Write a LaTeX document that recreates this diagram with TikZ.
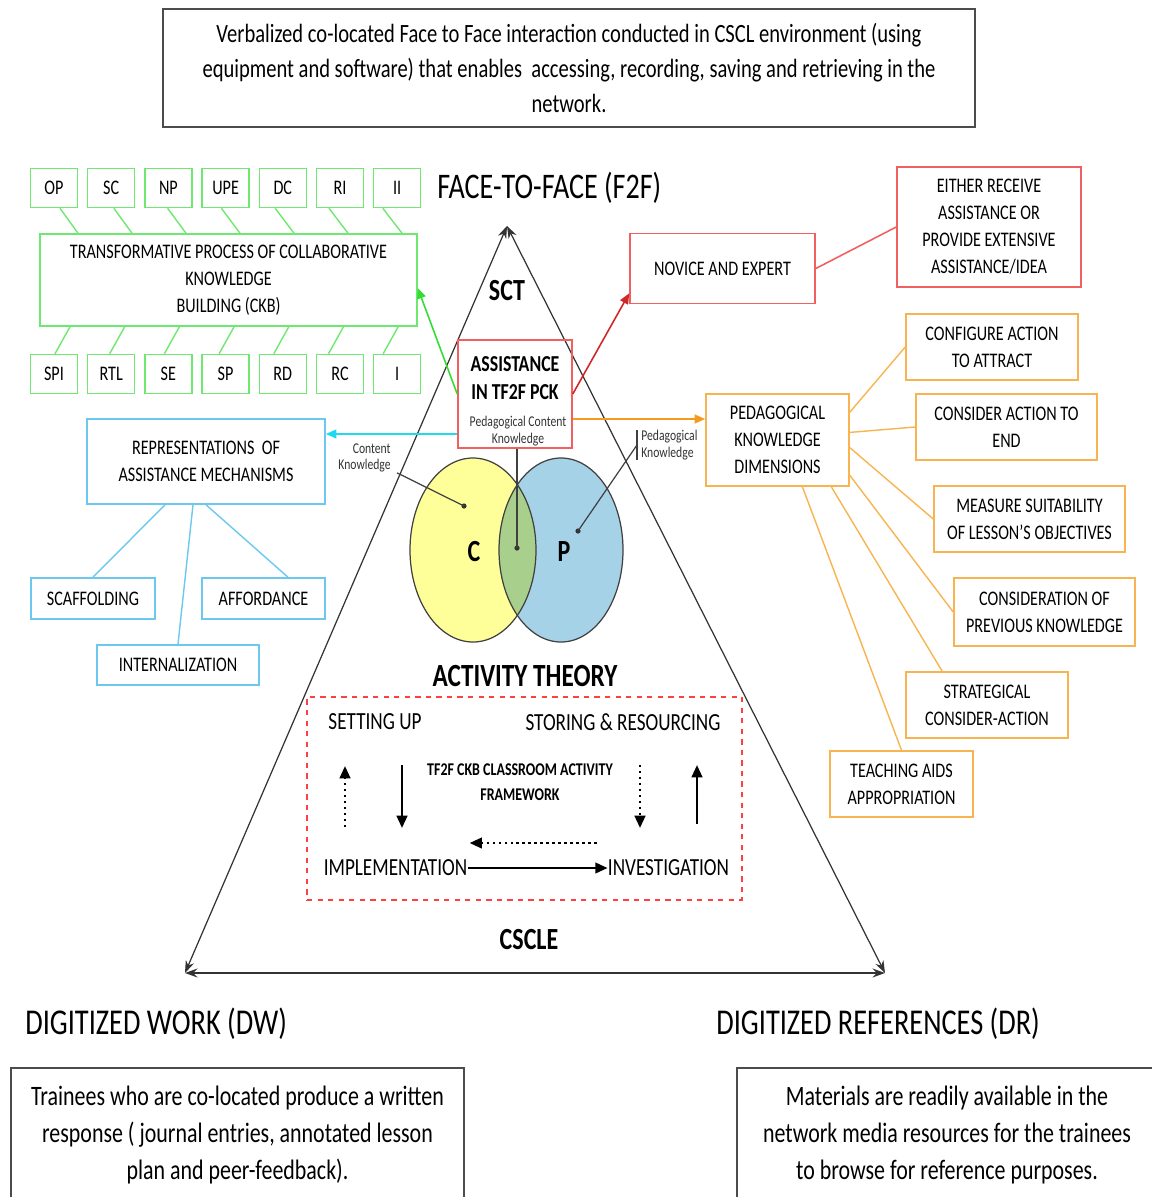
\documentclass[tikz,border=0pt]{standalone}
\usepackage{fontspec}
\setmainfont{Carlito}[FakeStretch=0.78]
\usetikzlibrary{arrows.meta}
\definecolor{boxgreen}{HTML}{6EE86E}
\definecolor{arrgreen}{HTML}{33DD33}
\definecolor{boxred}{HTML}{F06060}
\definecolor{arrred}{HTML}{D02828}
\definecolor{boxorange}{HTML}{F8B450}
\definecolor{arrorange}{HTML}{F59A1E}
\definecolor{boxblue}{HTML}{6CC8EE}
\definecolor{arrcyan}{HTML}{20D8F0}
\definecolor{vennyellow}{HTML}{FFFF99}
\definecolor{vennblue}{HTML}{A6D2E8}
\definecolor{venngreen}{HTML}{A8D08C}

\begin{document}
\begin{tikzpicture}[x=0.02cm, y=-0.02cm,
  txt/.style={font=\fontsize{11.8}{15.3}\selectfont, align=center, inner sep=0pt},
  gbox/.style={txt, draw=boxgreen, line width=0.9pt},
  gsmall/.style={gbox, minimum width=0.94cm, minimum height=0.78cm},
  rbox/.style={txt, draw=boxred, line width=0.9pt},
  obox/.style={txt, draw=boxorange, line width=0.9pt},
  bbox/.style={txt, draw=boxblue, line width=0.9pt},
  gline/.style={boxgreen, line width=0.8pt},
  oline/.style={boxorange, line width=0.8pt},
  bline/.style={boxblue, line width=0.8pt},
  tip/.style={-{Triangle[length=6pt, width=5pt]}},
  para/.style={draw=black!70, line width=1.2pt, align=center, inner sep=0pt, font=\fontsize{15}{20}\selectfont},
  bigtxt/.style={font=\fontsize{20.5}{24}\selectfont, inner sep=0pt},
  hugetxt/.style={font=\fontsize{20.7}{24}\selectfont, inner sep=0pt},
  head/.style={font=\fontsize{17.5}{20}\bfseries\selectfont, inner sep=0pt},
  midtxt/.style={font=\fontsize{14}{16}\selectfont, inner sep=0pt},
  tinytxt/.style={font=\fontsize{8.5}{9.5}\selectfont, align=center, inner sep=0pt, text=black!80},
  side/.style={black!80, line width=0.7pt, {Stealth[length=7pt, width=5pt]}-{Stealth[length=7pt, width=5pt]}},
  venn/.style={black!75, line width=0.7pt},
  fwarrow/.style={line width=1.4pt, -{Triangle[length=7pt, width=6pt]}},
  fwdots/.style={line width=1.4pt, dotted, -{Triangle[length=7pt, width=6pt]}}
]
\useasboundingbox (0,0) rectangle (1152,1197);

\node[para, minimum width=16.24cm, minimum height=2.36cm] (cscl) at (569,68)
  {Verbalized co-located Face to Face interaction conducted in CSCL environment (using\\
   equipment and software) that enables \ accessing, recording, saving and retrieving in the\\
   network.};
\node[bigtxt, anchor=west] (f2f) at (437,188) {FACE-TO-FACE (F2F)};

\coordinate (top) at (507,226);
\coordinate (bl) at (185,973);
\coordinate (br) at (885,973);
\draw[side] (bl) -- (top);
\draw[side] (top) -- (br);
\draw[side, line width=1.4pt] (bl) -- (br);

\node[head] (sct) at (507,291) {SCT};
\node[head, font=\fontsize{18.4}{20}\bfseries\selectfont] (at) at (525,676) {ACTIVITY THEORY};
\node[head] (cscle) at (529,940) {CSCLE};

\node[gbox, minimum width=7.54cm, minimum height=1.84cm] (ckb) at (228.5,280)
  {TRANSFORMATIVE PROCESS OF COLLABORATIVE\\KNOWLEDGE\\BUILDING (CKB)};
\foreach \n/\t [count=\k] in {op/OP, sc/SC, np/NP, upe/UPE, dc/DC, ri/RI, ii/II}
{
  \node[gsmall] (\n) at ({54+57.2*(\k-1)},188) {\t};
  \draw[gline] ([xshift={(6-3.4*(\k-1))*0.02cm}]\n.south)
    -- ([xshift={(24-3.2*(\k-1))*0.02cm}]\n.south |- ckb.north);
}
\foreach \n/\t [count=\k] in {spi/SPI, rtl/RTL, se/SE, sp/SP, rd/RD, rc/RC, ione/I}
{
  \node[gsmall] (\n) at ({54+57.2*(\k-1)},374) {\t};
  \draw[gline] ([xshift={(16-2.5*(\k-1))*0.02cm}]\n.north |- ckb.south)
    -- ([xshift={(1-2.5*(\k-1))*0.02cm}]\n.north);
}

\node[rbox, minimum width=2.28cm, minimum height=2.16cm] (assist) at (515,394) {};
\node[txt, font=\fontsize{13}{16}\bfseries\selectfont] (assistlab) at (515,378) {ASSISTANCE\\IN TF2F PCK};
\node[tinytxt] (pcklab) at (518,431) {Pedagogical Content\\Knowledge};

\node[rbox, minimum width=3.7cm, minimum height=1.4cm] (novice) at (722.5,268.5) {NOVICE AND EXPERT};
\node[rbox, minimum width=3.68cm, minimum height=2.4cm] (either) at (989,227)
  {EITHER RECEIVE\\ASSISTANCE OR\\PROVIDE EXTENSIVE\\ASSISTANCE/IDEA};

\node[obox, minimum width=2.86cm, minimum height=1.84cm] (pkd) at (777.5,440)
  {PEDAGOGICAL\\KNOWLEDGE\\DIMENSIONS};
\node[obox, minimum width=3.44cm, minimum height=1.32cm] (configure) at (992,347) {CONFIGURE ACTION\\TO ATTRACT};
\node[obox, minimum width=3.62cm, minimum height=1.32cm] (consider) at (1006.5,427) {CONSIDER ACTION TO\\END};
\node[obox, minimum width=3.82cm, minimum height=1.32cm] (measure) at (1029.5,519) {MEASURE SUITABILITY\\OF LESSON'S OBJECTIVES};
\node[obox, minimum width=3.62cm, minimum height=1.36cm] (previous) at (1044.5,612) {CONSIDERATION OF\\PREVIOUS KNOWLEDGE};
\node[obox, minimum width=3.24cm, minimum height=1.32cm] (strategical) at (987,705) {STRATEGICAL\\CONSIDER-ACTION};
\node[obox, minimum width=2.86cm, minimum height=1.32cm] (aids) at (901.5,784) {TEACHING AIDS\\APPROPRIATION};

\node[bbox, minimum width=4.76cm, minimum height=1.7cm] (rep) at (206,461.5)
  {REPRESENTATIONS \ OF\\ASSISTANCE MECHANISMS};
\node[bbox, minimum width=2.48cm, minimum height=0.82cm] (scaff) at (93,598.5) {SCAFFOLDING};
\node[bbox, minimum width=2.46cm, minimum height=0.82cm] (afford) at (263.5,598.5) {AFFORDANCE};
\node[bbox, minimum width=3.24cm, minimum height=0.8cm] (intern) at (178,665) {INTERNALIZATION};

\draw[arrgreen, line width=0.9pt, tip] (assist.west) -- ([yshift=-0.16cm]ckb.east);
\draw[arrred, line width=0.9pt, tip] (assist.east) -- ([yshift=0.22cm]novice.south west);
\draw[boxred, line width=0.9pt] (novice.east) -- (either.west);
\draw[arrorange, line width=1pt, tip] ([yshift=-0.5cm]assist.east) -- ([yshift=-0.5cm]assist.east -| pkd.west);
\draw[arrcyan, line width=1pt, tip] ([yshift=-0.8cm]assist.west) -- ([yshift=-0.8cm]assist.west -| rep.east);

\draw[oline] (pkd.21) -- (configure.west);
\draw[oline] (pkd.6) -- (consider.west);
\draw[oline] (pkd.-6) -- (measure.west);
\draw[oline] (pkd.-26) -- (previous.west);
\draw[oline] (pkd.-41) -- (strategical.143);
\draw[oline] (pkd.-62) -- (aids.north);

\draw[bline] ([xshift=-0.82cm]rep.south) -- (scaff.north);
\draw[bline] ([xshift=-0.26cm]rep.south) -- (intern.north);
\draw[bline] (rep.south) -- ([xshift=0.49cm]afford.north);

\fill[vennyellow] (473,550) ellipse [x radius=63, y radius=92];
\fill[vennblue] (561,550) ellipse [x radius=62, y radius=92];
\begin{scope}
  \clip (473,550) ellipse [x radius=63, y radius=92];
  \fill[venngreen] (561,550) ellipse [x radius=62, y radius=92];
\end{scope}
\draw[venn] (473,550) ellipse [x radius=63, y radius=92];
\draw[venn] (561,550) ellipse [x radius=62, y radius=92];
\node[head] (c) at (474,552) {C};
\node[head] (p) at (564,552) {P};
\coordinate (cdot) at (464,506);
\coordinate (mdot) at (517,548);
\coordinate (pdot) at (578,531);
\foreach \d in {cdot, mdot, pdot} \fill[black!80] (\d) circle [radius=2.6];
\node[tinytxt, align=right, anchor=east] (cklab) at (391,458) {Content\\Knowledge};
\node[tinytxt, align=left, anchor=west] (pklab) at (641,445) {Pedagogical\\Knowledge};
\draw[venn] (cdot) -- ([xshift=0.12cm]cklab.south east);
\draw[venn] (mdot) -- (assist.south -| mdot);
\draw[venn] (pdot) -- ([xshift=-0.08cm]pklab.west);
\draw[venn] ([xshift=-0.08cm]pklab.north west) -- ([xshift=-0.08cm]pklab.south west);

\node[draw=red!75, dashed, line width=0.7pt, minimum width=8.7cm, minimum height=4.06cm, inner sep=0pt] (fw) at (524.5,798.5) {};
\node[midtxt] (setup) at (375,722) {SETTING UP};
\node[midtxt] (storing) at (623,722) {STORING \& RESOURCING};
\node[txt, font=\fontsize{10.2}{14}\bfseries\selectfont] (fwlab) at (520,782) {TF2F CKB CLASSROOM ACTIVITY\\FRAMEWORK};
\node[midtxt] (impl) at (395.5,868) {IMPLEMENTATION};
\node[midtxt] (inv) at (668.5,868) {INVESTIGATION};
\draw[fwarrow] (impl.east) -- (inv.west);
\draw[fwdots] ([xshift=-0.22cm, yshift=0.5cm]inv.west) -- ([xshift=0.04cm, yshift=0.5cm]impl.east);
\draw[fwdots] (345,827) -- (345,766);
\draw[fwarrow] (402,765) -- (402,828);
\draw[fwdots] (640,765) -- (640,828);
\draw[fwarrow] (697,824) -- (697,765);

\node[hugetxt, anchor=west] (dw) at (25,1024) {DIGITIZED WORK (DW)};
\node[hugetxt, anchor=west] (dr) at (716,1024) {DIGITIZED REFERENCES (DR)};
\node[para, minimum width=9.06cm, minimum height=2.68cm, font=\fontsize{16}{21.3}\selectfont] (dwbox) at (237.5,1135)
  {Trainees who are co-located produce a written\\response ( journal entries, annotated lesson\\plan and peer-feedback).};
\node[para, minimum width=8.4cm, minimum height=2.68cm, font=\fontsize{16}{21.3}\selectfont] (drbox) at (947,1135)
  {Materials are readily available in the\\network media resources for the trainees\\to browse for reference purposes.};
\end{tikzpicture}
\end{document}
